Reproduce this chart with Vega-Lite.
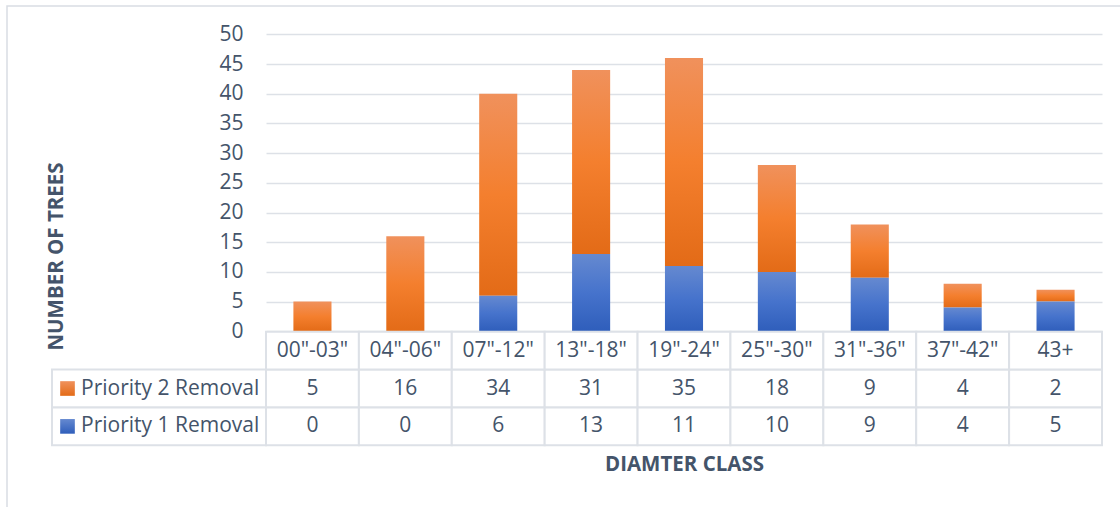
{
  "$schema": "https://vega.github.io/schema/vega-lite/v6.json",
  "width": 1121,
  "height": 509,
  "autosize": {"type": "none"},
  "padding": {"left": 7, "top": 6, "right": -8, "bottom": -8},
  "background": "white",
  "config": {
    "font": "Open Sans",
    "view": {"stroke": "#D9DDE3", "strokeWidth": 1.5, "fill": "white"},
    "text": {"font": "Open Sans", "fontSize": 21, "color": "#44546A"}
  },
  "data": {
    "values": [
      {"category": "00\"-03\"", "series": "Priority 2 Removal", "value": 5},
      {"category": "04\"-06\"", "series": "Priority 2 Removal", "value": 16},
      {"category": "07\"-12\"", "series": "Priority 2 Removal", "value": 34},
      {"category": "13\"-18\"", "series": "Priority 2 Removal", "value": 31},
      {"category": "19\"-24\"", "series": "Priority 2 Removal", "value": 35},
      {"category": "25\"-30\"", "series": "Priority 2 Removal", "value": 18},
      {"category": "31\"-36\"", "series": "Priority 2 Removal", "value": 9},
      {"category": "37\"-42\"", "series": "Priority 2 Removal", "value": 4},
      {"category": "43+", "series": "Priority 2 Removal", "value": 2},
      {"category": "00\"-03\"", "series": "Priority 1 Removal", "value": 0},
      {"category": "04\"-06\"", "series": "Priority 1 Removal", "value": 0},
      {"category": "07\"-12\"", "series": "Priority 1 Removal", "value": 6},
      {"category": "13\"-18\"", "series": "Priority 1 Removal", "value": 13},
      {"category": "19\"-24\"", "series": "Priority 1 Removal", "value": 11},
      {"category": "25\"-30\"", "series": "Priority 1 Removal", "value": 10},
      {"category": "31\"-36\"", "series": "Priority 1 Removal", "value": 9},
      {"category": "37\"-42\"", "series": "Priority 1 Removal", "value": 4},
      {"category": "43+", "series": "Priority 1 Removal", "value": 5}
    ]
  },
  "resolve": {"scale": {"x": "independent", "y": "independent"}},
  "layer": [
    {
      "mark": {"type": "bar"},
      "encoding": {
        "x": {
          "field": "category",
          "type": "nominal",
          "scale": {
            "domain": ["00\"-03\"", "04\"-06\"", "07\"-12\"", "13\"-18\"", "19\"-24\"", "25\"-30\"", "31\"-36\"", "37\"-42\"", "43+"],
            "range": [259, 1095],
            "paddingInner": 0.59,
            "paddingOuter": 0.295
          },
          "axis": {
            "orient": "bottom",
            "offset": -70,
            "labels": false,
            "ticks": false,
            "domain": false,
            "grid": false,
            "title": "DIAMTER CLASS",
            "titleFont": "Open Sans",
            "titleFontSize": 20.5,
            "titleFontWeight": "bold",
            "titleColor": "#44546A",
            "titleY": 19.5,
            "titleBaseline": "middle"
          }
        },
        "y": {
          "field": "value",
          "type": "quantitative",
          "stack": "zero",
          "scale": {"domain": [0, 50], "range": [325.3, 28.3], "nice": false},
          "axis": {
            "orient": "left",
            "offset": -259,
            "values": [0, 5, 10, 15, 20, 25, 30, 35, 40, 45, 50],
            "domain": false,
            "ticks": false,
            "labelPadding": 23,
            "labelFont": "Open Sans",
            "labelFontSize": 21,
            "labelColor": "#44546A",
            "grid": true,
            "gridColor": "#DDE1E7",
            "gridWidth": 1.5,
            "title": "NUMBER OF TREES",
            "titleFont": "Open Sans",
            "titleFontSize": 20.5,
            "titleFontWeight": "bold",
            "titleColor": "#44546A",
            "titleX": -209.7,
            "titleY": 250,
            "titleAlign": "center",
            "titleBaseline": "middle"
          }
        },
        "detail": {"field": "series"},
        "order": {"field": "series", "sort": "ascending"},
        "fill": {
          "condition": {
            "test": "datum.series === 'Priority 1 Removal'",
            "value": {
              "gradient": "linear", "x1": 0, "y1": 0, "x2": 0, "y2": 1,
              "stops": [
                {"offset": 0, "color": "#6589D0"},
                {"offset": 0.5, "color": "#4673CC"},
                {"offset": 1, "color": "#2F5EBB"}
              ]
            }
          },
          "value": {
            "gradient": "linear", "x1": 0, "y1": 0, "x2": 0, "y2": 1,
            "stops": [
              {"offset": 0, "color": "#F0915C"},
              {"offset": 0.5, "color": "#F47F2E"},
              {"offset": 1, "color": "#E36B17"}
            ]
          }
        }
      }
    },
    {
      "encoding": {
        "x": {
          "field": "category",
          "type": "nominal",
          "scale": {
            "domain": ["00\"-03\"", "04\"-06\"", "07\"-12\"", "13\"-18\"", "19\"-24\"", "25\"-30\"", "31\"-36\"", "37\"-42\"", "43+"],
            "range": [259, 1095],
            "paddingInner": 0,
            "paddingOuter": 0
          },
          "axis": null
        },
        "y": {
          "field": "series",
          "type": "nominal",
          "scale": {
            "domain": ["header", "Priority 2 Removal", "Priority 1 Removal"],
            "range": [325.7, 439.3],
            "paddingInner": 0,
            "paddingOuter": 0
          },
          "axis": null
        }
      },
      "layer": [
        {
          "mark": {"type": "rect", "fill": "white", "stroke": "#DDE1E7", "strokeWidth": 2}
        },
        {
          "transform": [{"filter": "datum.series === 'Priority 2 Removal'"}],
          "mark": {"type": "rect", "fill": "white", "stroke": "#DDE1E7", "strokeWidth": 2},
          "encoding": {"y": {"datum": "header", "type": "nominal"}}
        },
        {
          "mark": {"type": "text", "align": "center", "baseline": "middle"},
          "encoding": {"text": {"field": "value", "type": "quantitative"}}
        },
        {
          "transform": [{"filter": "datum.series === 'Priority 2 Removal'"}],
          "mark": {"type": "text", "align": "center", "baseline": "middle"},
          "encoding": {
            "y": {"datum": "header", "type": "nominal"},
            "text": {"field": "category", "type": "nominal"}
          }
        }
      ]
    },
    {
      "transform": [{"filter": "datum.category === '43+'"}],
      "encoding": {
        "x": {
          "datum": "legend",
          "type": "nominal",
          "scale": {"domain": ["legend"], "range": [45, 259], "paddingInner": 0, "paddingOuter": 0},
          "axis": null
        },
        "y": {
          "field": "series",
          "type": "nominal",
          "scale": {
            "domain": ["header", "Priority 2 Removal", "Priority 1 Removal"],
            "range": [325.7, 439.3],
            "paddingInner": 0,
            "paddingOuter": 0
          },
          "axis": null
        }
      },
      "layer": [
        {
          "mark": {"type": "rect", "fill": "white", "stroke": "#DDE1E7", "strokeWidth": 2}
        },
        {
          "mark": {"type": "point", "shape": "square", "size": 215, "filled": true, "opacity": 1, "strokeWidth": 0, "xOffset": 15.5},
          "encoding": {
            "x": {"datum": "legend", "type": "nominal", "bandPosition": 0},
            "fill": {
              "condition": {
                "test": "datum.series === 'Priority 1 Removal'",
                "value": {
                  "gradient": "linear", "x1": 0, "y1": 0, "x2": 0, "y2": 1,
                  "stops": [
                    {"offset": 0, "color": "#6589D0"},
                    {"offset": 1, "color": "#2F5EBB"}
                  ]
                }
              },
              "value": {
                "gradient": "linear", "x1": 0, "y1": 0, "x2": 0, "y2": 1,
                "stops": [
                  {"offset": 0, "color": "#F0915C"},
                  {"offset": 1, "color": "#E36B17"}
                ]
              }
            }
          }
        },
        {
          "mark": {"type": "text", "align": "left", "baseline": "middle", "dx": 29},
          "encoding": {
            "x": {"datum": "legend", "type": "nominal", "bandPosition": 0},
            "text": {"field": "series", "type": "nominal"}
          }
        }
      ]
    }
  ]
}
